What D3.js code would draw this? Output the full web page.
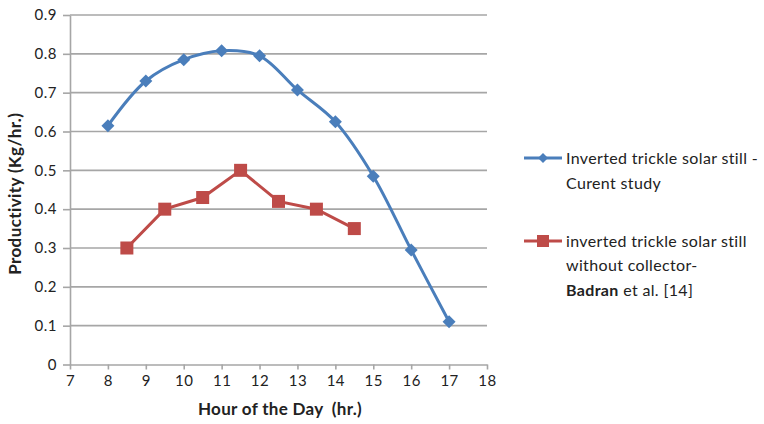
<!DOCTYPE html>
<html>
<head>
<meta charset="utf-8">
<script src="https://cdn.jsdelivr.net/npm/d3@7"></script>
<style>
  html, body { margin: 0; padding: 0; background: #fff; }
  svg text { font-family: Lato, "Open Sans", "Liberation Sans", sans-serif; fill: #222; }
</style>
</head>
<body>
<div id="chart"></div>
<script>
// Hourly productivity of two inverted trickle solar stills
const currentHours = [8, 9, 10, 11, 12, 13, 14, 15, 16, 17];
const currentValues = [0.615, 0.73, 0.785, 0.808, 0.795, 0.707, 0.625, 0.485, 0.295, 0.11];
const badranHours = [8.5, 9.5, 10.5, 11.5, 12.5, 13.5, 14.5];
const badranValues = [0.30, 0.40, 0.43, 0.50, 0.42, 0.40, 0.35];
const xTicks = [7, 8, 9, 10, 11, 12, 13, 14, 15, 16, 17, 18];
const yTicks = [0, 0.1, 0.2, 0.3, 0.4, 0.5, 0.6, 0.7, 0.8, 0.9];

const W = 764, H = 424;
const plot = { left: 70, right: 487, top: 15, bottom: 364.5 };
const blue = "#4a7ebb", red = "#be4b48", grid = "#a6a6a6";

const svg = d3.select("#chart").append("svg").attr("width", W).attr("height", H);

const x = d3.scaleLinear().domain([7, 18]).range([plot.left, plot.right]);
const y = d3.scaleLinear().domain([0, 0.9]).range([plot.bottom, plot.top]);

// horizontal gridlines
svg.append("g").selectAll("line").data(yTicks.slice(1)).join("line")
  .attr("x1", plot.left).attr("x2", plot.right)
  .attr("y1", d => y(d)).attr("y2", d => y(d))
  .attr("stroke", grid).attr("stroke-width", 1.6);

// y axis
const yAxis = svg.append("g").attr("transform", `translate(${plot.left},0)`)
  .call(d3.axisLeft(y).tickValues(yTicks).tickFormat(d => d === 0 ? "0" : d3.format(".1f")(d)).tickSizeInner(7).tickSizeOuter(0).tickPadding(6));
yAxis.select(".domain").attr("stroke", grid).attr("stroke-width", 1.6);
yAxis.selectAll(".tick line").attr("stroke", grid).attr("stroke-width", 1.6);
yAxis.selectAll(".tick text").attr("font-size", 15).attr("fill", "#222").attr("letter-spacing", 0.5);

// x axis
const xAxis = svg.append("g").attr("transform", `translate(0,${plot.bottom})`)
  .call(d3.axisBottom(x).tickValues(xTicks).tickFormat(d3.format("d")).tickSizeInner(5).tickSizeOuter(0).tickPadding(6));
xAxis.select(".domain").attr("stroke", grid).attr("stroke-width", 1.6);
xAxis.selectAll(".tick line").attr("stroke", grid).attr("stroke-width", 1.6);
xAxis.selectAll(".tick text").attr("font-size", 15).attr("fill", "#222").attr("letter-spacing", 0.5);

// axis titles
svg.append("text")
  .attr("transform", `translate(21,${(plot.top + plot.bottom) / 2 + 4}) rotate(-90)`)
  .attr("text-anchor", "middle").attr("font-size", 17).attr("font-weight", "bold")
  .attr("letter-spacing", 0.4)
  .text("Productivity (Kg/hr.)");
svg.append("text")
  .attr("x", 280).attr("y", 415)
  .attr("text-anchor", "middle").attr("font-size", 17).attr("font-weight", "bold")
  .attr("letter-spacing", 0.3).attr("xml:space", "preserve")
  .text("Hour of the Day  (hr.)");

// diamond marker: a square turned by 45 degrees
const diamond = s => `M0,${-s}L${s},0L0,${s}L${-s},0Z`;

// current study: smoothed line with diamond markers
const curData = currentHours.map((h, i) => [h, currentValues[i]]);
svg.append("path").datum(curData)
  .attr("d", d3.line().x(d => x(d[0])).y(d => y(d[1])).curve(d3.curveCatmullRom.alpha(0.5)))
  .attr("fill", "none").attr("stroke", blue).attr("stroke-width", 3);
svg.append("g").selectAll("path").data(curData).join("path")
  .attr("d", diamond(6.5))
  .attr("transform", d => `translate(${x(d[0])},${y(d[1])})`)
  .attr("fill", blue);

// Badran et al.: straight line with square markers
const badData = badranHours.map((h, i) => [h, badranValues[i]]);
svg.append("path").datum(badData)
  .attr("d", d3.line().x(d => x(d[0])).y(d => y(d[1])))
  .attr("fill", "none").attr("stroke", red).attr("stroke-width", 3);
svg.append("g").selectAll("rect").data(badData).join("rect")
  .attr("x", d => x(d[0]) - 6.5).attr("y", d => y(d[1]) - 6.5)
  .attr("width", 13).attr("height", 13)
  .attr("fill", red);

// legend
const leg = svg.append("g").attr("font-size", 16).attr("letter-spacing", 0.35);
leg.append("line").attr("x1", 524).attr("x2", 562).attr("y1", 158).attr("y2", 158)
  .attr("stroke", blue).attr("stroke-width", 3);
leg.append("path").attr("d", diamond(5))
  .attr("transform", "translate(543,158)").attr("fill", blue);
leg.append("text").attr("x", 566).attr("y", 164)
  .text("Inverted trickle solar still -");
leg.append("text").attr("x", 566).attr("y", 189)
  .text("Curent study");

leg.append("line").attr("x1", 524).attr("x2", 562).attr("y1", 241).attr("y2", 241)
  .attr("stroke", red).attr("stroke-width", 3);
leg.append("rect").attr("x", 537).attr("y", 235).attr("width", 12).attr("height", 12)
  .attr("fill", red);
leg.append("text").attr("x", 566).attr("y", 247)
  .text("inverted trickle solar still");
leg.append("text").attr("x", 566).attr("y", 271)
  .text("without collector-");
const t3 = leg.append("text").attr("x", 566).attr("y", 296);
t3.append("tspan").attr("font-weight", "bold").text("Badran");
t3.append("tspan").text(" et al. [14]");
</script>
</body>
</html>
